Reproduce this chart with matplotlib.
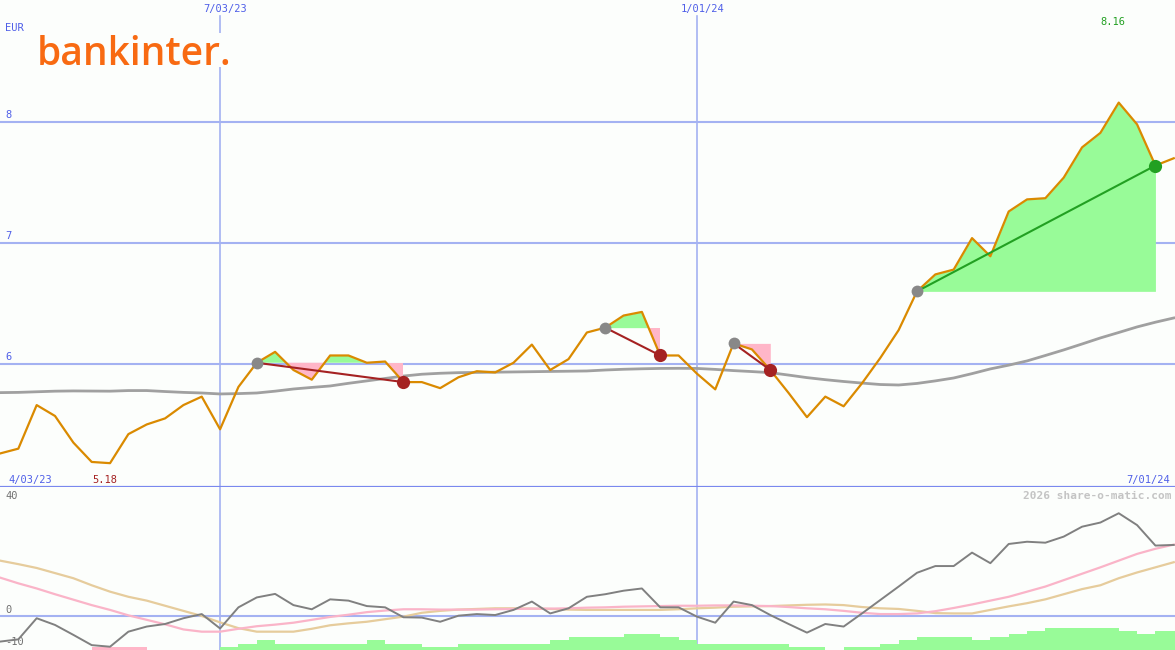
import matplotlib
matplotlib.use("Agg")
import matplotlib.pyplot as plt
from matplotlib.patches import Rectangle
import numpy as np

# weekly closes, 4/03/23 .. 7/01/24
price = [5.26, 5.30, 5.66, 5.57, 5.35, 5.19, 5.18, 5.42, 5.50, 5.55,
         5.66, 5.73, 5.46, 5.81, 6.01, 6.10, 5.95, 5.87, 6.07, 6.07,
         6.01, 6.02, 5.85, 5.85, 5.80, 5.89, 5.94, 5.93, 6.01, 6.16,
         5.95, 6.04, 6.26, 6.30, 6.40, 6.43, 6.07, 6.07, 5.92, 5.79,
         6.17, 6.12, 5.95, 5.76, 5.56, 5.73, 5.65, 5.84, 6.05, 6.28,
         6.60, 6.74, 6.78, 7.04, 6.89, 7.26, 7.36, 7.37, 7.54, 7.79,
         7.91, 8.16, 7.98, 7.64, 7.70]
avg = [5.763, 5.765, 5.770, 5.775, 5.777, 5.776, 5.775, 5.780, 5.780, 5.772,
       5.765, 5.760, 5.752, 5.755, 5.760, 5.775, 5.793, 5.806, 5.818, 5.840,
       5.860, 5.880, 5.900, 5.915, 5.923, 5.928, 5.930, 5.932, 5.934, 5.936,
       5.938, 5.940, 5.942, 5.950, 5.956, 5.960, 5.963, 5.964, 5.963, 5.955,
       5.945, 5.937, 5.928, 5.908, 5.887, 5.870, 5.855, 5.842, 5.830, 5.826,
       5.839, 5.860, 5.884, 5.920, 5.959, 5.990, 6.025, 6.070, 6.116, 6.165,
       6.215, 6.260, 6.306, 6.345, 6.380]

# lower indicator panel
osc = [-8.0, -7.3, -0.7, -2.8, -5.9, -9.1, -9.6, -4.9, -3.3, -2.5,
       -0.7, 0.6, -3.9, 2.7, 5.8, 6.9, 3.4, 2.1, 5.2, 4.8,
       3.1, 2.7, -0.4, -0.5, -1.8, 0.1, 0.6, 0.3, 1.9, 4.5,
       0.8, 2.4, 6.0, 6.8, 7.9, 8.6, 2.7, 2.7, -0.2, -2.1,
       4.5, 3.4, 0.3, -2.5, -5.2, -2.5, -3.3, 0.8, 5.0, 9.2,
       13.5, 15.6, 15.6, 19.8, 16.5, 22.5, 23.2, 22.9, 24.8, 27.9,
       29.2, 32.1, 28.4, 22.0, 22.2]
osc_fast = [12.0, 10.2, 8.6, 6.8, 5.1, 3.4, 1.9, 0.2, -1.2, -2.6,
            -4.2, -4.9, -4.9, -4.0, -3.2, -2.7, -2.1, -1.2, -0.3, 0.4,
            1.2, 1.7, 2.1, 2.1, 2.0, 2.0, 2.0, 2.1, 2.2, 2.3,
            2.3, 2.4, 2.6, 2.7, 2.9, 3.0, 3.1, 3.2, 3.2, 3.3,
            3.3, 3.2, 3.1, 2.8, 2.4, 2.1, 1.6, 1.0, 0.6, 0.6,
            0.8, 1.5, 2.5, 3.6, 4.8, 6.0, 7.6, 9.2, 11.2, 13.2,
            15.2, 17.3, 19.4, 21.0, 22.3]
osc_slow = [17.3, 16.2, 15.0, 13.4, 11.8, 9.6, 7.6, 6.0, 4.8, 3.2,
            1.6, 0.0, -2.0, -3.8, -4.9, -4.9, -4.9, -4.0, -2.9, -2.3,
            -1.8, -1.0, -0.2, 1.0, 1.6, 2.0, 2.2, 2.4, 2.4, 2.3,
            2.2, 2.0, 1.9, 1.9, 1.9, 1.9, 1.9, 2.1, 2.4, 2.6,
            2.9, 3.0, 3.1, 3.3, 3.5, 3.6, 3.4, 2.8, 2.4, 2.2,
            1.6, 0.9, 0.8, 0.8, 1.9, 3.0, 4.0, 5.2, 6.8, 8.4,
            9.6, 11.8, 13.6, 15.2, 16.8]
hist = [0, 0, 0, 0, 0, -1, -1, -1, 0, 0,
        0, 0, 1, 2, 3, 2, 2, 2, 2, 2,
        3, 2, 2, 1, 1, 2, 2, 2, 2, 2,
        3, 4, 4, 4, 5, 5, 4, 3, 2, 2,
        2, 2, 2, 1, 1, 0, 1, 1, 2, 3,
        4, 4, 4, 3, 4, 5, 6, 7, 7, 7,
        7, 6, 5, 6, 6]

entries = [14, 33, 40, 50]
exits = [22, 36, 42, 63]
grid_weeks = [12, 38]
grid_labels = ["7/03/23", "1/01/24"]
first_date, last_date = "4/03/23", "7/01/24"
levels = [6, 7, 8]

bg = "#FCFEFC"
gridc = "#A4B2F2"
bluetxt = "#4F5FE8"
mono = "DejaVu Sans Mono"
x = np.arange(len(price))
p = np.array(price)

fig = plt.figure(figsize=(11.75, 6.5), dpi=100)
fig.patch.set_facecolor(bg)
split = 163 / 650
ax = fig.add_axes([0, split, 1, 1 - split])
ax2 = fig.add_axes([0, 0, 1, split])
for a in (ax, ax2):
    a.set_facecolor(bg)
    a.set_xlim(0, 1175 / 18.34)
    a.set_xticks([])
    a.set_yticks([])
    for s in a.spines.values():
        s.set_visible(False)

ax.set_ylim(4.983, 9.008)
ax.spines["bottom"].set_visible(True)
ax.spines["bottom"].set_color("#7A88EE")
ax.spines["bottom"].set_linewidth(1.6)

for lv in levels:
    ax.axhline(lv, color=gridc, lw=1.5, zorder=1)
    ax.text(5 / 18.34, lv + 0.02, str(lv), color=bluetxt, fontsize=7.5,
            family=mono, va="bottom", ha="left")
for gw, gl in zip(grid_weeks, grid_labels):
    ax.axvline(gw, ymax=0.968, color=gridc, lw=1.2, zorder=1)
    ax2.axvline(gw, color=gridc, lw=1.2, zorder=1)
    ax.text(gw + 0.3, 8.93, gl, color=bluetxt, fontsize=7.5, family=mono,
            ha="center", va="center")

ax.plot(x, avg, color="#A0A0A0", lw=2, zorder=2)

for e, q in zip(entries, exits):
    xs = x[e:q + 1]
    ys = p[e:q + 1]
    lvl = p[e]
    ax.fill_between(xs, lvl, ys, where=ys >= lvl, interpolate=True,
                    color="#98FB98", lw=0, zorder=3)
    ax.fill_between(xs, lvl, ys, where=ys <= lvl, interpolate=True,
                    color="#FFB6C8", lw=0, zorder=3)

ax.plot(x, price, color="#DA8A00", lw=1.6, zorder=4)

for e, q in zip(entries, exits):
    c = "#22A022" if p[q] > p[e] else "#A52222"
    ax.plot([e, q], [p[e], p[q]], color=c, lw=1.5, zorder=5)
    ax.plot(e, p[e], "o", color="#888888", ms=8.5, mec="none", zorder=6)
    ax.plot(q, p[q], "o", color=c, ms=9.5, mec="none", zorder=6)

ax.text(5 / 18.34, 8.78, "EUR", color=bluetxt, fontsize=7.5, family=mono,
        va="center")
ax.text(8 / 18.34, 5.04, first_date, color=bluetxt, fontsize=7.5,
        family=mono, va="center")
ax.text(1170 / 18.34, 5.04, last_date, color=bluetxt, fontsize=7.5,
        family=mono, va="center", ha="right")
lo = int(np.argmin(p))
hi = int(np.argmax(p))
ax.text(lo - 0.3, 5.04, "%.2f" % p[lo], color="#A52222", fontsize=7.5,
        family=mono, va="center", ha="center")
ax.text(hi - 0.3, 8.83, "%.2f" % p[hi], color="#22A022", fontsize=7.5,
        family=mono, va="center", ha="center")

# logo sits on its own background box
fig.add_artist(Rectangle((34 / 1175, 1 - 67 / 650), 202 / 1175, 34 / 650,
                         transform=fig.transFigure, fc=bg, ec="none",
                         zorder=2))
fig.text(37 / 1175, 1 - 65 / 650, "bankinter.", color="#F86A12",
         fontsize=28, family="Open Sans", fontweight="semibold",
         va="baseline", ha="left", zorder=3)

# lower panel
ylo = -10.625
ax2.set_ylim(ylo, 40.3)
ax2.axhline(0, color=gridc, lw=1.5, zorder=1)
ax2.bar(x, np.abs(hist), width=1, align="edge", bottom=ylo,
        color=["#98FB98" if h > 0 else "#FFB6C8" for h in hist], lw=0,
        zorder=2)
ax2.plot(x, osc_slow, color="#E6CC9C", lw=1.6, zorder=3)
ax2.plot(x, osc_fast, color="#FAB4C8", lw=1.6, zorder=3)
ax2.plot(x, osc, color="#808080", lw=1.4, zorder=4)
ax2.text(5 / 18.34, 37.5, "40", color="#707070", fontsize=7.5, family=mono,
         va="center")
ax2.text(5 / 18.34, 2.0, "0", color="#707070", fontsize=7.5, family=mono,
         va="center")
ax2.text(5 / 18.34, -8.0, "-10", color="#707070", fontsize=7.5,
         family=mono, va="center")
ax2.text(1172 / 18.34, 37.5, "2026 share-o-matic.com", color="#C4C4C4",
         fontsize=8, family=mono, fontweight="bold", va="center", ha="right")

fig.savefig("out.png", dpi=100, facecolor=bg)
